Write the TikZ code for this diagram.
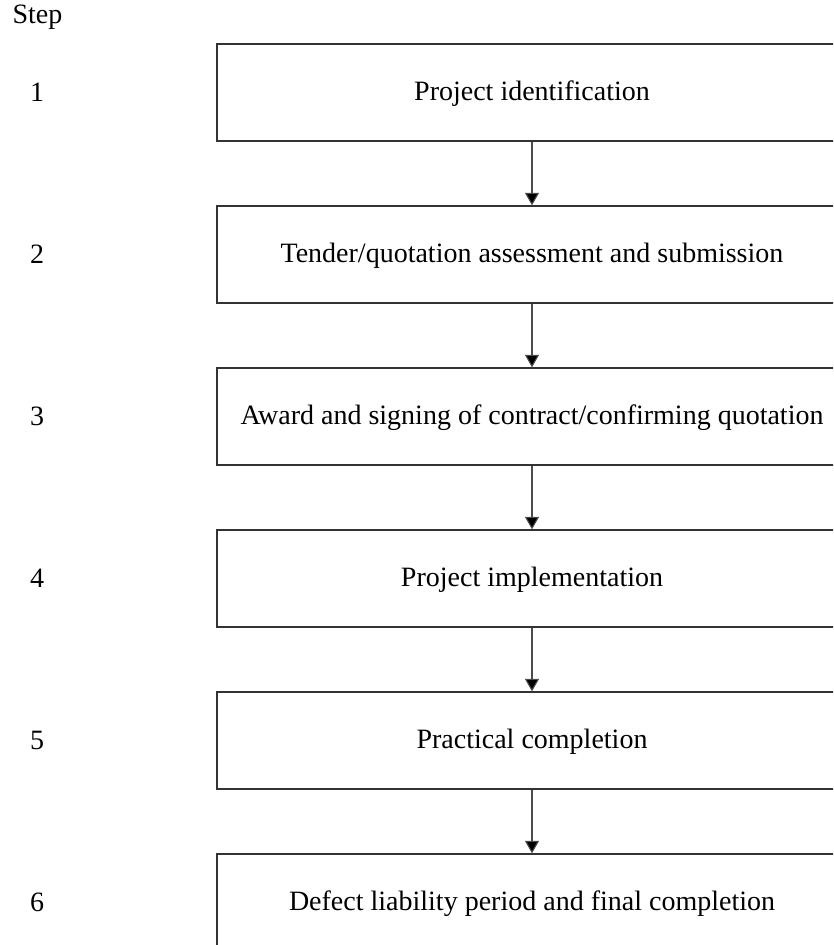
\documentclass[tikz,border=0pt]{standalone}
\usepackage{fontspec}
\setmainfont{Liberation Serif}
\usetikzlibrary{arrows.meta}
\begin{document}
\begin{tikzpicture}[x=1pt,y=-1pt,
  stepbox/.style={draw=black!80,line width=1.3pt,minimum width=630pt,minimum height=97pt,inner sep=0pt,font=\fontsize{28}{32}\selectfont},
  numlab/.style={font=\fontsize{28}{32}\selectfont},
  conn/.style={draw=black!70,line width=1.1pt,-{Triangle[length=12.5pt,width=14pt,fill=black]}}]
\useasboundingbox (0,0) rectangle (833,945);
\clip (0,0) rectangle (833,945);
\node[font=\fontsize{28}{32}\selectfont,anchor=west] (hdr) at (9,17) {Step};
\foreach \i/\t [count=\k from 0] in {1/{Project identification},2/{Tender/quotation assessment and submission},3/{Award and signing of contract/confirming quotation},4/{Project implementation},5/{Practical completion},6/{Defect liability period and final completion}}{
  \node[stepbox] (b\i) at (532,{92.5+162*\k}) {\raisebox{-1.5pt}[\height][\depth]{\t}};
  \node[numlab] (n\i) at (37,{92.5+162*\k}) {\i};
}
\foreach \a/\b in {1/2,2/3,3/4,4/5,5/6}{
  \draw[conn] (b\a.south -| 532,0) -- (b\b.north -| 532,0);
}
\end{tikzpicture}
\end{document}
